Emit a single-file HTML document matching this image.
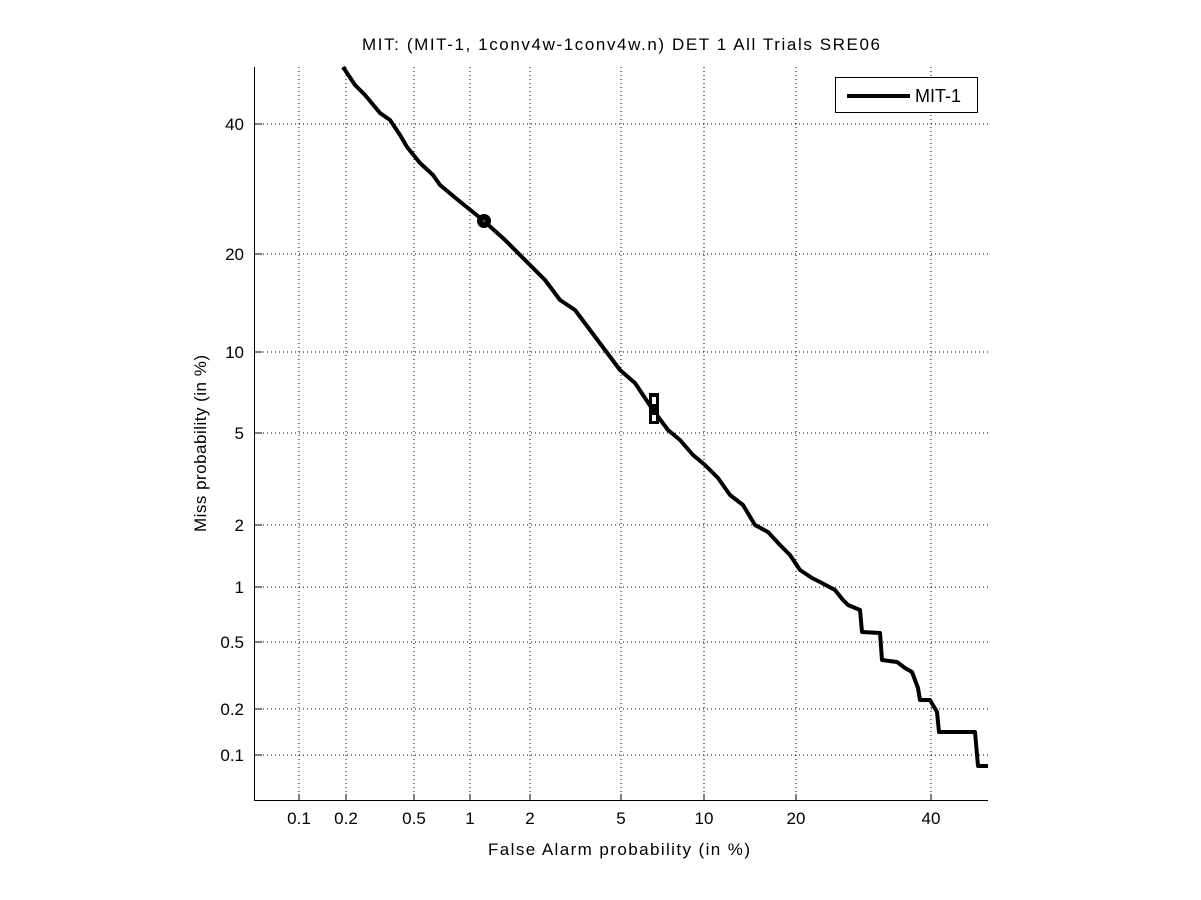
<!DOCTYPE html>
<html><head><style>body{margin:0;background:#fff}svg{display:block}text{font-family:"Liberation Sans",sans-serif;fill:#000}</style></head><body>
<svg width="1201" height="900" viewBox="0 0 1201 900" xmlns="http://www.w3.org/2000/svg">
<rect width="1201" height="900" fill="#fff"/>
<g stroke="#000" stroke-width="1" stroke-dasharray="1,3">
<line x1="299" y1="67" x2="299" y2="801"/><line x1="346" y1="67" x2="346" y2="801"/><line x1="414" y1="67" x2="414" y2="801"/><line x1="470" y1="67" x2="470" y2="801"/><line x1="530" y1="67" x2="530" y2="801"/><line x1="621" y1="67" x2="621" y2="801"/><line x1="704" y1="67" x2="704" y2="801"/><line x1="796" y1="67" x2="796" y2="801"/><line x1="931" y1="67" x2="931" y2="801"/>
<line x1="255" y1="124" x2="988" y2="124"/><line x1="255" y1="254" x2="988" y2="254"/><line x1="255" y1="352" x2="988" y2="352"/><line x1="255" y1="433" x2="988" y2="433"/><line x1="255" y1="525" x2="988" y2="525"/><line x1="255" y1="587" x2="988" y2="587"/><line x1="255" y1="642" x2="988" y2="642"/><line x1="255" y1="709" x2="988" y2="709"/><line x1="255" y1="755" x2="988" y2="755"/>
</g>
<g stroke="#000" stroke-width="1">
<line x1="254.5" y1="67" x2="254.5" y2="801"/><line x1="254" y1="800.5" x2="988" y2="800.5"/>
<path d="M299 801v-7M346 801v-7M414 801v-7M470 801v-7M530 801v-7M621 801v-7M704 801v-7M796 801v-7M931 801v-7M255 124h7M255 254h7M255 352h7M255 433h7M255 525h7M255 587h7M255 642h7M255 709h7M255 755h7"/>
</g>
<g font-size="17" text-anchor="middle">
<text x="299" y="824">0.1</text><text x="346" y="824">0.2</text><text x="414" y="824">0.5</text><text x="470" y="824">1</text><text x="530" y="824">2</text><text x="621" y="824">5</text><text x="704" y="824">10</text><text x="796" y="824">20</text><text x="931" y="824">40</text>
</g>
<g font-size="17" text-anchor="end">
<text x="244" y="130">40</text><text x="244" y="260">20</text><text x="244" y="358">10</text><text x="244" y="439">5</text><text x="244" y="531">2</text><text x="244" y="593">1</text><text x="244" y="648">0.5</text><text x="244" y="715">0.2</text><text x="244" y="761">0.1</text>
</g>
<text x="488" y="855" font-size="17" textLength="262" lengthAdjust="spacing">False Alarm probability (in %)</text>
<text transform="translate(206,532) rotate(-90)" font-size="17" textLength="177" lengthAdjust="spacing">Miss probability (in %)</text>
<text x="362" y="50" font-size="17" textLength="518" lengthAdjust="spacing">MIT: (MIT-1, 1conv4w-1conv4w.n) DET 1 All Trials SRE06</text>
<polyline fill="none" stroke="#000" stroke-width="4" stroke-linejoin="round" points="343,67 355,85 365,95 380,113 390,120 400,135 407,147 420,163 433,175 440,185 458,200 484,221 505,240 530,265 545,280 560,300 575,310 590,330 605,350 620,370 635,383 653,410 668,430 680,440 693,455 705,465 718,478 730,495 743,505 755,525 768,532 780,545 790,555 800,570 812,578 820,582 835,590 843,600 848,605 860,610 862,632 880,633 882,660 897,662 905,668 912,672 918,688 920,700 930,700 937,712 939,732 975,732 978,766 988,766"/>
<circle cx="484" cy="221" r="7" fill="#000"/>
<circle cx="484" cy="221" r="1.5" fill="#444"/>
<rect x="649" y="393" width="10" height="31" fill="#000"/>
<rect x="652" y="397" width="4" height="7" fill="#fff"/>
<rect x="652" y="415" width="4" height="6" fill="#fff"/>
<rect x="835.5" y="77.5" width="142" height="35" fill="#fff" stroke="#000"/>
<line x1="847" y1="96" x2="910" y2="96" stroke="#000" stroke-width="4"/>
<text x="915" y="102" font-size="18">MIT-1</text>
</svg>
</body></html>
